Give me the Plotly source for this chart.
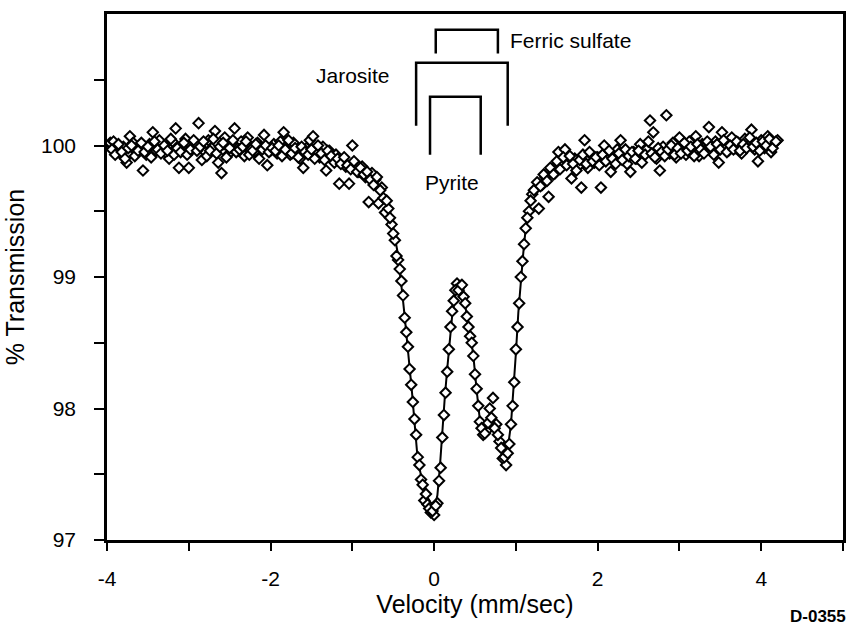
import plotly.graph_objects as go

# Measured spectrum, even channels: velocity (mm/sec) and % transmission
velocity = [
    -3.96, -3.92, -3.88, -3.84, -3.80, -3.76, -3.72, -3.68, -3.64, -3.60,
    -3.56, -3.52, -3.48, -3.44, -3.40, -3.36, -3.32, -3.28, -3.24, -3.20,
    -3.16, -3.12, -3.08, -3.04, -3.00, -2.96, -2.92, -2.88, -2.84, -2.80,
    -2.76, -2.72, -2.68, -2.64, -2.60, -2.56, -2.52, -2.48, -2.44, -2.40,
    -2.36, -2.32, -2.28, -2.24, -2.20, -2.16, -2.12, -2.08, -2.04, -2.00,
    -1.96, -1.92, -1.88, -1.84, -1.80, -1.76, -1.72, -1.68, -1.64, -1.60,
    -1.56, -1.52, -1.48, -1.44, -1.40, -1.36, -1.32, -1.28, -1.24, -1.20,
    -1.16, -1.12, -1.08, -1.04, -1.00, -0.96, -0.92, -0.88, -0.84, -0.80,
    -0.76, -0.72, -0.68, -0.64, -0.60, -0.56, -0.52, -0.48, -0.44, -0.40,
    -0.36, -0.32, -0.28, -0.24, -0.20, -0.16, -0.12, -0.08, -0.04, 0.00,
    0.04, 0.08, 0.12, 0.16, 0.20, 0.24, 0.28, 0.32, 0.36, 0.40,
    0.44, 0.48, 0.52, 0.56, 0.60, 0.64, 0.68, 0.72, 0.76, 0.80,
    0.84, 0.88, 0.92, 0.96, 1.00, 1.04, 1.08, 1.12, 1.16, 1.20,
    1.24, 1.28, 1.32, 1.36, 1.40, 1.44, 1.48, 1.52, 1.56, 1.60,
    1.64, 1.68, 1.72, 1.76, 1.80, 1.84, 1.88, 1.92, 1.96, 2.00,
    2.04, 2.08, 2.12, 2.16, 2.20, 2.24, 2.28, 2.32, 2.36, 2.40,
    2.44, 2.48, 2.52, 2.56, 2.60, 2.64, 2.68, 2.72, 2.76, 2.80,
    2.84, 2.88, 2.92, 2.96, 3.00, 3.04, 3.08, 3.12, 3.16, 3.20,
    3.24, 3.28, 3.32, 3.36, 3.40, 3.44, 3.48, 3.52, 3.56, 3.60,
    3.64, 3.68, 3.72, 3.76, 3.80, 3.84, 3.88, 3.92, 3.96, 4.00,
    4.04, 4.08, 4.12, 4.16, 4.20,
]
transmission = [
    100.02, 100.03, 99.96, 99.94, 99.99, 99.87, 100.07, 100.02, 99.95, 99.97,
    99.81, 99.93, 100.01, 100.10, 99.96, 100.04, 99.98, 99.94, 99.90, 100.03,
    100.13, 99.83, 99.99, 100.05, 99.83, 99.97, 100.02, 100.17, 99.89, 99.95,
    100.04, 99.98, 100.11, 99.87, 99.79, 100.06, 99.93, 100.01, 100.13, 99.96,
    100.03, 99.92, 100.06, 99.97, 99.95, 100.02, 99.99, 100.08, 99.85, 99.96,
    100.01, 99.94, 100.03, 100.10, 99.97, 99.93, 100.02, 99.95, 99.90, 99.83,
    99.98, 100.04, 100.07, 99.94, 99.91, 99.99, 99.81, 99.96, 99.89, 99.93,
    99.71, 99.88, 99.84, 99.71, 100.00, 99.86, 99.80, 99.84, 99.76, 99.57,
    99.79, 99.74, 99.56, 99.68, 99.49, 99.52, 99.40, 99.28, 99.13, 98.97,
    98.69, 98.47, 98.18, 97.92, 97.63, 97.46, 97.30, 97.27, 97.21, 97.19,
    97.28, 97.55, 97.95, 98.28, 98.62, 98.82, 98.95, 98.93, 98.85, 98.70,
    98.55, 98.40, 98.15, 97.90, 97.80, 97.83, 98.00, 98.08, 97.88, 97.75,
    97.62, 97.57, 97.73, 98.02, 98.45, 98.80, 99.12, 99.37, 99.50, 99.63,
    99.67, 99.52, 99.70, 99.76, 99.61, 99.82, 99.79, 99.95, 99.86, 99.97,
    99.88, 99.75, 99.90, 99.84, 99.68, 100.04, 99.83, 99.93, 99.87, 99.91,
    99.68, 100.00, 99.94, 99.80, 99.89, 99.97, 100.04, 99.92, 99.86, 99.80,
    99.95, 99.90, 100.01, 99.93, 99.97, 100.19, 100.10, 99.90, 99.81, 99.99,
    100.23, 99.94, 100.02, 99.91, 100.06, 99.96, 99.93, 100.03, 99.98, 100.07,
    99.92, 100.01, 99.97, 100.14, 99.95, 100.03, 99.87, 100.10, 100.00, 99.96,
    100.06, 99.98, 100.02, 99.94, 100.05, 100.00, 100.12, 99.97, 99.88, 100.04,
    99.98, 100.07, 99.95, 100.02, 100.04,
]

# Measured spectrum, odd channels
velocity_odd = [
    -3.94, -3.90, -3.86, -3.82, -3.78, -3.74, -3.70, -3.66, -3.62, -3.58,
    -3.54, -3.50, -3.46, -3.42, -3.38, -3.34, -3.30, -3.26, -3.22, -3.18,
    -3.14, -3.10, -3.06, -3.02, -2.98, -2.94, -2.90, -2.86, -2.82, -2.78,
    -2.74, -2.70, -2.66, -2.62, -2.58, -2.54, -2.50, -2.46, -2.42, -2.38,
    -2.34, -2.30, -2.26, -2.22, -2.18, -2.14, -2.10, -2.06, -2.02, -1.98,
    -1.94, -1.90, -1.86, -1.82, -1.78, -1.74, -1.70, -1.66, -1.62, -1.58,
    -1.54, -1.50, -1.46, -1.42, -1.38, -1.34, -1.30, -1.26, -1.22, -1.18,
    -1.14, -1.10, -1.06, -1.02, -0.98, -0.94, -0.90, -0.86, -0.82, -0.78,
    -0.74, -0.70, -0.66, -0.62, -0.58, -0.54, -0.50, -0.46, -0.42, -0.38,
    -0.34, -0.30, -0.26, -0.22, -0.18, -0.14, -0.10, -0.06, -0.02, 0.02,
    0.06, 0.10, 0.14, 0.18, 0.22, 0.26, 0.30, 0.34, 0.38, 0.42,
    0.46, 0.50, 0.54, 0.58, 0.62, 0.66, 0.70, 0.74, 0.78, 0.82,
    0.86, 0.90, 0.94, 0.98, 1.02, 1.06, 1.10, 1.14, 1.18, 1.22,
    1.26, 1.30, 1.34, 1.38, 1.42, 1.46, 1.50, 1.54, 1.58, 1.62,
    1.66, 1.70, 1.74, 1.78, 1.82, 1.86, 1.90, 1.94, 1.98, 2.02,
    2.06, 2.10, 2.14, 2.18, 2.22, 2.26, 2.30, 2.34, 2.38, 2.42,
    2.46, 2.50, 2.54, 2.58, 2.62, 2.66, 2.70, 2.74, 2.78, 2.82,
    2.86, 2.90, 2.94, 2.98, 3.02, 3.06, 3.10, 3.14, 3.18, 3.22,
    3.26, 3.30, 3.34, 3.38, 3.42, 3.46, 3.50, 3.54, 3.58, 3.62,
    3.66, 3.70, 3.74, 3.78, 3.82, 3.86, 3.90, 3.94, 3.98, 4.02,
    4.06, 4.10, 4.14, 4.18,
]
transmission_odd = [
    99.97, 99.93, 100.01, 99.95, 99.90, 99.98, 100.00, 99.92, 99.96, 100.02,
    99.95, 99.99, 99.91, 100.03, 99.97, 99.94, 100.00, 99.96, 100.05, 99.93,
    99.98, 99.95, 100.02, 99.93, 99.97, 100.04, 99.96, 99.99, 100.03, 99.92,
    99.96, 100.05, 99.94, 99.99, 100.02, 99.91, 99.98, 100.04, 99.95, 99.97,
    99.99, 100.03, 99.93, 99.96, 100.01, 99.90, 99.97, 100.00, 99.95, 99.98,
    99.96, 100.00, 99.92, 99.97, 100.04, 99.94, 99.98, 99.91, 99.99, 99.95,
    99.93, 99.97, 99.90, 100.00, 99.94, 99.89, 99.96, 99.92, 99.87, 99.90,
    99.86, 99.91, 99.85, 99.82, 99.88, 99.80, 99.83, 99.78, 99.80, 99.74,
    99.70, 99.76, 99.66, 99.60, 99.58, 99.45, 99.33, 99.16, 99.06, 98.86,
    98.58, 98.30, 98.05, 97.80, 97.57, 97.42, 97.35, 97.24, 97.22, 97.26,
    97.45, 97.78, 98.12, 98.45, 98.74, 98.90, 98.90, 98.94, 98.80, 98.62,
    98.50, 98.26, 98.02, 97.85, 97.81, 97.89, 97.93, 97.85, 97.80, 97.70,
    97.63, 97.66, 97.88, 98.20, 98.62, 99.00, 99.25, 99.45, 99.58, 99.66,
    99.72, 99.69, 99.78, 99.73, 99.83, 99.78, 99.88, 99.82, 99.91, 99.85,
    99.92, 99.86, 99.81, 99.89, 99.93, 99.86, 99.95, 99.88, 99.91, 99.85,
    99.93, 99.88, 99.96, 99.90, 99.86, 99.94, 99.89, 99.97, 99.92, 99.95,
    99.90, 99.96, 99.87, 99.93, 100.03, 99.94, 99.91, 99.98, 99.95, 99.92,
    99.97, 100.00, 99.93, 99.98, 99.94, 100.02, 99.96, 99.99, 99.92, 100.01,
    99.97, 99.94, 100.03, 99.99, 99.93, 100.01, 99.97, 100.04, 99.95, 100.00,
    99.97, 100.03, 99.96, 100.01, 99.98, 100.06, 99.99, 100.02, 99.96, 100.03,
    100.00, 100.05, 99.98, 100.03,
]

# Fitted envelope (sum of the component doublets)
fit_velocity = [
    -4.00, -3.00, -2.00, -1.60, -1.30, -1.15, -1.00, -0.90, -0.80, -0.70,
    -0.62, -0.56, -0.50, -0.45, -0.42, -0.39, -0.36, -0.33, -0.30, -0.27,
    -0.24, -0.21, -0.18, -0.15, -0.10, -0.05, 0.00, 0.04, 0.07, 0.10,
    0.13, 0.16, 0.19, 0.22, 0.26, 0.30, 0.34, 0.38, 0.43, 0.48,
    0.52, 0.56, 0.60, 0.64, 0.69, 0.75, 0.80, 0.85, 0.88, 0.91,
    0.94, 0.97, 1.00, 1.03, 1.06, 1.09, 1.12, 1.16, 1.22, 1.30,
    1.40, 1.60, 1.80, 2.00, 2.50, 3.00, 3.50, 4.00, 4.20,
]
fit_transmission = [
    99.99, 99.98, 99.96, 99.94, 99.91, 99.88, 99.85, 99.82, 99.78, 99.72,
    99.63, 99.52, 99.37, 99.20, 99.05, 98.88, 98.70, 98.52, 98.34, 98.12,
    97.90, 97.68, 97.55, 97.46, 97.36, 97.28, 97.23, 97.34, 97.55, 97.85,
    98.08, 98.30, 98.50, 98.70, 98.86, 98.92, 98.88, 98.78, 98.62, 98.40,
    98.14, 97.91, 97.82, 97.84, 97.86, 97.84, 97.76, 97.69, 97.67, 97.74,
    97.88, 98.12, 98.42, 98.73, 98.98, 99.18, 99.37, 99.52, 99.64, 99.72,
    99.80, 99.86, 99.88, 99.90, 99.93, 99.96, 99.99, 100.02, 100.03,
]

# Axis tick labels (plain hyphen for negatives)
x_tick_values = [-4, -2, 0, 2, 4]
x_tick_labels = ["-4", "-2", "0", "2", "4"]
y_tick_values = [97, 98, 99, 100]
y_tick_labels = ["97", "98", "99", "100"]

# Line positions of each component doublet
components = ["Ferric sulfate", "Jarosite", "Pyrite"]
line_left = [0.02, -0.22, -0.05]
line_right = [0.78, 0.90, 0.57]
bar_top = [100.88, 100.63, 100.37]
leg_bottom = [100.70, 100.15, 99.93]
label_x = [0.90, -0.52, 0.22]
label_y = [100.80, 100.53, 99.72]
label_anchor = ["left", "right", "center"]

FONT = "Liberation Sans, Arial, Helvetica, sans-serif"

fig = go.Figure()
fig.add_trace(go.Scatter(
    x=fit_velocity, y=fit_transmission, mode="lines",
    line=dict(color="black", width=2), hoverinfo="skip", showlegend=False,
))
fig.add_trace(go.Scatter(
    x=velocity + velocity_odd, y=transmission + transmission_odd,
    mode="markers",
    marker=dict(symbol="diamond", size=8, color="white",
                line=dict(color="black", width=2)),
    showlegend=False,
))

for name, x0, x1, yt, yb, lx, ly, anc in zip(components, line_left, line_right,
                                              bar_top, leg_bottom, label_x,
                                              label_y, label_anchor):
    fig.add_shape(type="path",
                  path=f"M {x0},{yb} L {x0},{yt} L {x1},{yt} L {x1},{yb}",
                  xref="x", yref="y", line=dict(color="black", width=2.5))
    fig.add_annotation(x=lx, y=ly, xref="x", yref="y", text=name,
                       showarrow=False, xanchor=anc, yanchor="middle",
                       font=dict(family=FONT, size=21, color="black"))

fig.add_annotation(x=0.966, y=-0.146, xref="paper", yref="paper",
                   text="<b>D-0355</b>", showarrow=False,
                   xanchor="center", yanchor="middle",
                   font=dict(family=FONT, size=17, color="black"))

fig.update_layout(
    width=852, height=627,
    margin=dict(l=107, r=6, t=14, b=87),
    paper_bgcolor="white", plot_bgcolor="white",
    font=dict(family=FONT, size=21, color="black"),
    xaxis=dict(
        range=[-4, 5], tickvals=x_tick_values, ticktext=x_tick_labels,
        ticks="outside", ticklen=8, tickwidth=2, tickcolor="black",
        minor=dict(tickvals=[-3, -1, 1, 3, 5], ticks="outside",
                   ticklen=8, tickwidth=2, tickcolor="black"),
        showline=True, linewidth=2.5, linecolor="black", mirror=True,
        showgrid=False, zeroline=False, ticklabelstandoff=10,
        title=dict(text="Velocity (mm/sec)", standoff=6),
    ),
    yaxis=dict(
        range=[97, 101], tickvals=y_tick_values, ticktext=y_tick_labels,
        ticks="outside", ticklen=10, tickwidth=2, tickcolor="black",
        minor=dict(tickvals=[97.5, 98.5, 99.5, 100.5], ticks="outside",
                   ticklen=10, tickwidth=2, tickcolor="black"),
        showline=True, linewidth=2.5, linecolor="black", mirror=True,
        showgrid=False, zeroline=False, ticklabelstandoff=14,
        title=dict(text="% Transmission", standoff=10),
    ),
)

fig.write_html("out.html")
